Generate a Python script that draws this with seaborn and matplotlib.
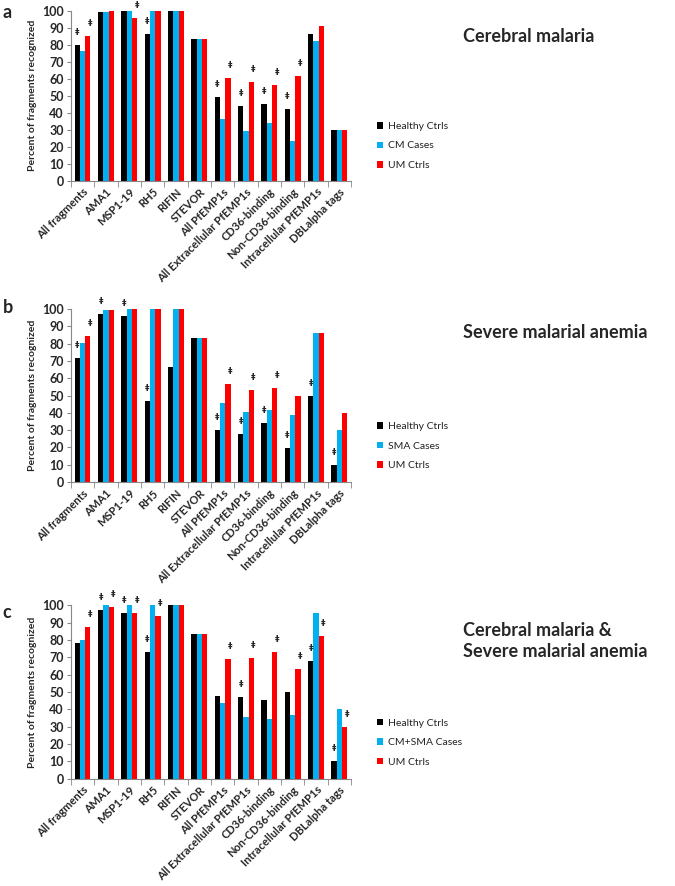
import numpy as np
import pandas as pd
import matplotlib
matplotlib.use("Agg")
import matplotlib.pyplot as plt
import seaborn as sns

fragments = ["All fragments", "AMA1", "MSP1-19", "RH5", "RIFIN", "STEVOR",
             "All PfEMP1s", "All Extracellular PfEMP1s", "CD36-binding",
             "Non-CD36-binding", "Intracellular PfEMP1s", "DBLalpha tags"]

# panel a - cerebral malaria
a_groups = ["Healthy Ctrls", "CM Cases", "UM Ctrls"]
a_healthy = [80, 99, 100, 86.5, 100, 83.3, 49, 44, 45, 42, 86, 30]
a_cases = [76.5, 99, 100, 100, 100, 83.3, 36.5, 29.5, 34, 23.5, 82, 30]
a_um = [85, 99.5, 95.5, 100, 100, 83.3, 60.5, 58, 56, 61.5, 91, 30]
a_sig_healthy = [1, 0, 0, 1, 0, 0, 1, 1, 1, 1, 0, 0]
a_sig_um = [1, 0, 1, 0, 0, 0, 1, 1, 1, 1, 0, 0]

# panel b - severe malarial anemia
b_groups = ["Healthy Ctrls", "SMA Cases", "UM Ctrls"]
b_healthy = [71.5, 97.5, 96, 47, 66.7, 83.3, 30, 28, 34, 19.5, 50, 10]
b_cases = [80.5, 99.5, 100, 100, 100, 83.3, 46, 40.5, 41.5, 38.5, 86.5, 30]
b_um = [84.5, 99.5, 100, 100, 100, 83.3, 57, 53, 54.5, 50, 86.5, 40]
b_sig_healthy = [1, 1, 1, 1, 0, 0, 1, 1, 1, 1, 1, 1]
b_sig_um = [1, 0, 0, 0, 0, 0, 1, 1, 1, 0, 0, 0]

# panel c - CM + SMA
c_groups = ["Healthy Ctrls", "CM+SMA Cases", "UM Ctrls"]
c_healthy = [78, 97, 95.5, 73, 100, 83.3, 47.5, 47, 45.5, 50, 68, 10]
c_cases = [80, 100, 100, 100, 100, 83.3, 43.5, 35.5, 34.5, 36.5, 95.5, 40]
c_um = [87.5, 99, 95.5, 93.5, 100, 83.3, 69, 69.5, 73, 63.5, 82, 30]
c_sig_healthy = [0, 1, 1, 1, 0, 0, 0, 1, 0, 0, 1, 1]
c_sig_um = [1, 1, 1, 1, 0, 0, 1, 1, 1, 1, 1, 1]

colors = ["#000000", "#00B0F0", "#FF0000"]

panels = [
    ("a", "Cerebral malaria", a_groups, [a_healthy, a_cases, a_um], a_sig_healthy, a_sig_um),
    ("b", "Severe malarial anemia", b_groups, [b_healthy, b_cases, b_um], b_sig_healthy, b_sig_um),
    ("c", "Cerebral malaria &\nSevere malarial anemia", c_groups, [c_healthy, c_cases, c_um], c_sig_healthy, c_sig_um),
]

sns.set_style("white")
plt.rcParams["font.family"] = ["Lato", "DejaVu Sans"]

fig = plt.figure(figsize=(6.75, 8.86), dpi=100)

# axes rectangles in figure fraction (left, bottom, width, height)
rects = [(0.105, 0.796, 0.415, 0.192),
         (0.105, 0.456, 0.415, 0.195),
         (0.105, 0.121, 0.415, 0.196)]
title_y = [1 - 36 / 886, 1 - 332 / 886, 1 - 641 / 886]
letter_y = [1 - 12 / 886, 1 - 308 / 886, 1 - 612 / 886]

for (letter, title, groups, values, sig_h, sig_u), rect, ty, ly in zip(panels, rects, title_y, letter_y):
    ax = fig.add_axes(rect)
    df = pd.DataFrame({
        "fragment": np.tile(fragments, 3),
        "group": np.repeat(groups, len(fragments)),
        "percent": np.concatenate(values),
    })
    sns.barplot(data=df, x="fragment", y="percent", hue="group", hue_order=groups,
                palette=colors, saturation=1, width=0.68, errorbar=None,
                linewidth=0, ax=ax)

    ax.set_xlim(-0.5, len(fragments) - 0.5)
    ax.set_ylim(0, 100)
    ax.set_yticks(np.arange(0, 101, 10))
    ax.tick_params(axis="y", labelsize=9, length=3, color="#888888", pad=2, left=True)
    for lab in ax.get_yticklabels():
        lab.set_fontweight("bold")

    ax.set_xticks(range(len(fragments)))
    ax.set_xticklabels(fragments, rotation=45, ha="right", rotation_mode="anchor",
                       fontsize=8, fontweight="bold")
    ax.tick_params(axis="x", length=0, pad=4)
    ax.set_xticks(np.arange(-0.5, len(fragments), 1), minor=True)
    ax.tick_params(axis="x", which="minor", length=4, color="#888888", bottom=True)

    ax.set_xlabel("")
    ax.set_ylabel("Percent of fragments recognized", fontsize=7.5, fontweight="bold", labelpad=4)
    sns.despine(ax=ax)
    for side in ["left", "bottom"]:
        ax.spines[side].set_color("#888888")
        ax.spines[side].set_linewidth(0.8)

    # significance markers above healthy and UM bars
    for container, flags, dx in [(ax.containers[0], sig_h, 0), (ax.containers[2], sig_u, 1.5)]:
        for bar, flag in zip(container.patches, flags):
            if flag:
                ax.annotate("\u2021", (bar.get_x() + bar.get_width() / 2, bar.get_height()),
                            xytext=(dx, 9), textcoords="offset points", ha="center",
                            va="center", fontsize=6.5, fontweight="bold",
                            family=["DejaVu Sans"], annotation_clip=False)

    sns.move_legend(ax, "upper left", bbox_to_anchor=(1.06, 0.40), frameon=False,
                    title=None, fontsize=7.5, handlelength=0.6, handleheight=0.6,
                    handletextpad=0.4, labelspacing=1.0, labelcolor="#222222")

    fig.text(463 / 675, ty, title, ha="left", va="center", fontsize=13,
             fontweight="bold", linespacing=1.3)
    fig.text(0.004, ly, letter, ha="left", va="center", fontsize=13, fontweight="bold")

fig.savefig("out.png", dpi=100)
